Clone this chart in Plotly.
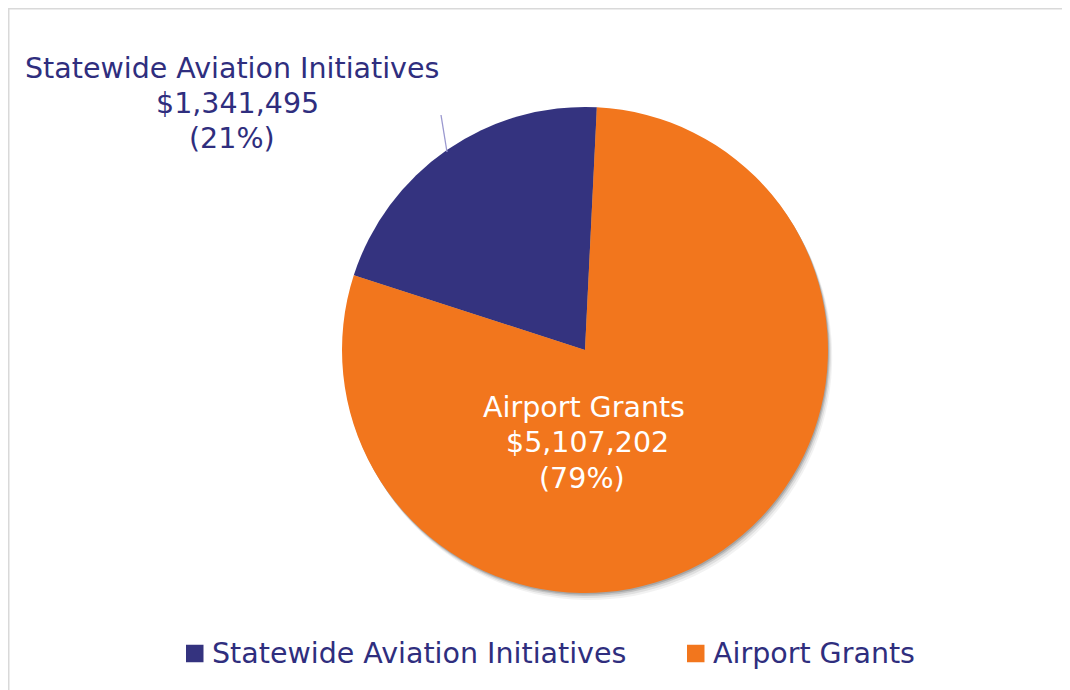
import plotly.graph_objects as go

categories = ["Statewide Aviation Initiatives", "Airport Grants"]
values = [1341495, 5107202]
colors = ["#34337f", "#f2761d"]

W, H = 1070, 690
OFF = 8  # page body margin of the generated html

total = sum(values)
pcts = [round(v / total * 100) for v in values]
label_lines = [[c, f"${v:,}", f"({p}%)"] for c, v, p in zip(categories, values, pcts)]

cx, cy, r = 585, 350, 243
first_share = values[0] / total * 360
boundary_top = 2.8  # degrees clockwise from 12 o'clock
rotation = boundary_top - first_share


def px_x(x):
    return (x - OFF) / W


def px_y(y):
    return 1 - (y - OFF) / H


fig = go.Figure()

# soft shadow
for off, a in [(7, 0.05), (5, 0.08), (3, 0.12), (1.5, 0.15)]:
    fig.add_trace(go.Pie(
        labels=categories, values=values, sort=False, direction="counterclockwise",
        rotation=rotation, textinfo="none", hoverinfo="skip", showlegend=False,
        marker=dict(colors=[f"rgba(0,0,0,{a})"] * 2, line=dict(width=0)),
        domain=dict(x=[px_x(cx - r + off * 0.6), px_x(cx + r + off * 0.6)],
                    y=[px_y(cy + r + off), px_y(cy - r + off)]),
    ))

fig.add_trace(go.Pie(
    labels=categories, values=values, sort=False, direction="counterclockwise",
    rotation=rotation, textinfo="none", showlegend=False,
    marker=dict(colors=colors, line=dict(width=0)),
    domain=dict(x=[px_x(cx - r), px_x(cx + r)], y=[px_y(cy + r), px_y(cy - r)]),
))

font_family = "DejaVu Sans"
fsize = 28.5
navy_text = "#2f2e7e"

# data labels, one annotation per line
label_pos = [
    ([232, 237, 232], [69, 104, 139], navy_text),
    ([584, 587, 582], [407, 442, 479], "white"),
]
for lines, (xs, ys, col) in zip(label_lines, label_pos):
    for t, x, y in zip(lines, xs, ys):
        fig.add_annotation(x=px_x(x), y=px_y(y), xref="paper", yref="paper",
                           text=t, showarrow=False, xanchor="center", yanchor="middle",
                           font=dict(family=font_family, size=fsize, color=col))

# leader line
fig.add_shape(type="line", xref="paper", yref="paper",
              x0=px_x(441), y0=px_y(115), x1=px_x(447), y1=px_y(152),
              line=dict(color="#9a98cf", width=1.3))

# custom legend
leg_marker_x = [186, 687]
leg_text_x = [210, 711]
leg_y = 653.5
for name, col, mx, tx in zip(categories, colors, leg_marker_x, leg_text_x):
    fig.add_shape(type="rect", xref="paper", yref="paper",
                  x0=px_x(mx), x1=px_x(mx + 17.5), y0=px_y(leg_y + 8.75), y1=px_y(leg_y - 8.75),
                  fillcolor=col, line=dict(width=0))
    fig.add_annotation(x=px_x(tx), y=px_y(leg_y), xref="paper", yref="paper",
                       text=name, showarrow=False, xanchor="left", yanchor="middle",
                       font=dict(family=font_family, size=fsize, color=navy_text))

# frame
fig.add_shape(type="rect", xref="paper", yref="paper",
              x0=px_x(OFF + 0.75), y0=px_y(H + 20), x1=px_x(1068), y1=px_y(OFF + 0.75),
              line=dict(color="#d9d9d9", width=1.5), fillcolor="rgba(0,0,0,0)", layer="below")

fig.update_layout(
    width=W, height=H,
    margin=dict(l=0, r=0, t=0, b=0),
    paper_bgcolor="white", plot_bgcolor="white",
    showlegend=False,
)

fig.write_html("out.html")
